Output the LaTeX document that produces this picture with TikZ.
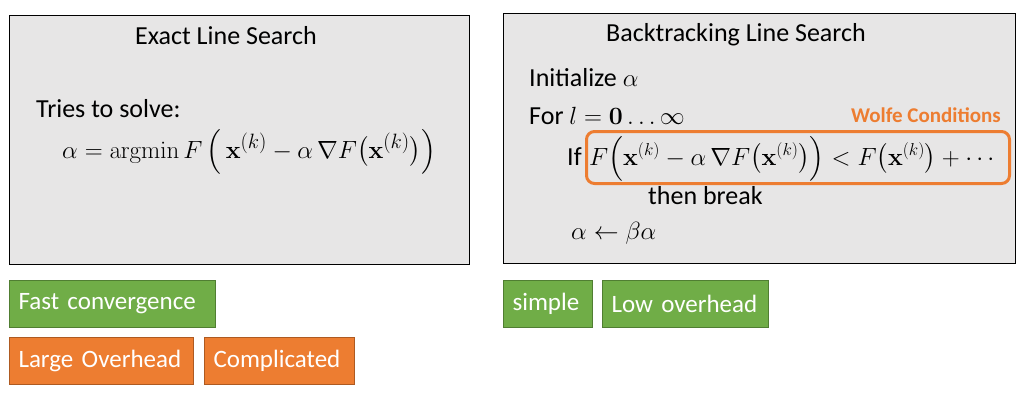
\documentclass[tikz,border=0pt]{standalone}
\usepackage{amsmath}
\usepackage[no-math]{fontspec}
\setmainfont{Carlito}
\definecolor{panelgray}{HTML}{E7E6E6}
\definecolor{tgreen}{HTML}{70AD47}
\definecolor{tgreenD}{HTML}{507E32}
\definecolor{torange}{HTML}{ED7D31}
\definecolor{torangeD}{HTML}{AE5A21}
\begin{document}
\begin{tikzpicture}[x=1pt,y=-1pt,
  panel/.style={draw=black, line width=1pt, fill=panelgray, anchor=north west, inner sep=0pt},
  txt/.style={anchor=base west, inner sep=0pt, font=\fontsize{26}{30}\selectfont},
  mth/.style={anchor=base west, inner sep=0pt, font=\fontsize{26}{30}\selectfont},
  tag/.style={anchor=north west, line width=1pt, text=white, inner xsep=9pt, inner ysep=0pt,
    minimum height=47pt, font=\fontsize{25}{30}\selectfont, align=left},
  good/.style={tag, fill=tgreen, draw=tgreenD},
  bad/.style={tag, fill=torange, draw=torangeD}]
\useasboundingbox (0,0) rectangle (1022,404);
% panels
\node[panel, minimum width=460pt, minimum height=249pt] (exact) at (9,15) {};
\node[panel, minimum width=512pt, minimum height=250pt] (back) at (503,13) {};
% left panel text
\node[txt, anchor=base] (t1) at (226,45) {Exact Line Search};
\node[txt] (t2) at (36,117) {Tries to solve:};
\node[mth, font=\fontsize{29}{33}\selectfont] (m1) at (62,158) {$\alpha = \operatorname{argmin} F\,\Bigl(\,\mathbf{x}^{(k)} - \alpha\,\nabla F\bigl(\mathbf{x}^{(k)}\bigr)\Bigr)$};
% right panel text
\node[txt, anchor=base] (t3) at (736,42) {Backtracking Line Search};
\node[txt] (t4) at (529,86) {Initialize $\alpha$};
\node[txt] (t5) at (529,124) {For $l = \mathbf{0} \ldots \infty$};
\node[txt] (t6) at (567,165) {If};
\node[draw=torange, line width=3pt, rounded corners=8pt, anchor=north west, inner sep=0pt,
  minimum width=423pt, minimum height=52pt] (wbox) at (585,130) {};
\node[mth] (m2) at (589,165) {\smash{$F\Bigl(\mathbf{x}^{(k)} - \alpha\,\nabla F\bigl(\mathbf{x}^{(k)}\bigr)\Bigr) < F\bigl(\mathbf{x}^{(k)}\bigr) + {\cdots}$}};
\node[anchor=base east, inner sep=0pt, text=torange, font=\fontsize{21}{24}\selectfont\bfseries] (wolfe) at (1001,122) {Wolfe Conditions};
\node[txt] (t7) at (648,204) {then break};
\node[mth] (m3) at (571,239) {$\alpha \leftarrow \beta\alpha$};
% tags
\node[good, minimum width=206pt, text width=188pt] (fast) at (9,280) {\mbox{Fast convergence}};
\node[bad, minimum width=184pt, text width=166pt] (large) at (9,337) {\mbox{Large Overhead}};
\node[bad, minimum width=150pt, text width=132pt] (compl) at (204,337) {\mbox{Complicated}};
\node[good, minimum width=89pt, text width=71pt] (simple) at (503,280) {\mbox{simple}};
\node[good, minimum width=166pt, text width=148pt] (low) at (602,280) {\mbox{Low overhead}};
\end{tikzpicture}
\end{document}
